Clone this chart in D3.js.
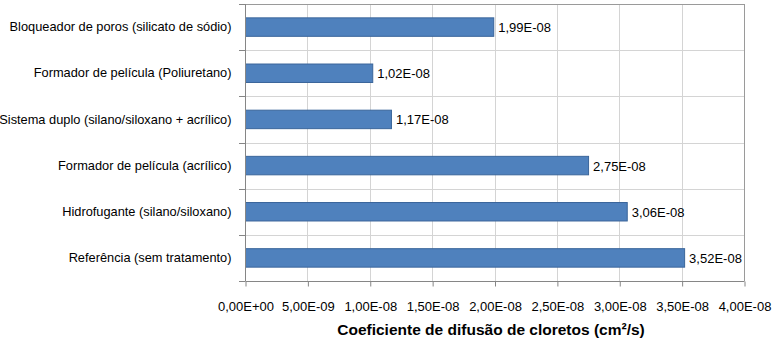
<!DOCTYPE html>
<html>
<head>
<meta charset="utf-8">
<script src="https://cdn.jsdelivr.net/npm/d3@7"></script>
<style>
  body { margin: 0; background: #fff; }
  text { font-family: "Liberation Sans", sans-serif; }
</style>
</head>
<body>
<div class="canvas"></div>
<script>
// data
const categories = [
  'Bloqueador de poros (silicato de sódio)',
  'Formador de película (Poliuretano)',
  'Sistema duplo (silano/siloxano + acrílico)',
  'Formador de película (acrílico)',
  'Hidrofugante (silano/siloxano)',
  'Referência (sem tratamento)'
]
const values = [1.99e-8, 1.02e-8, 1.17e-8, 2.75e-8, 3.06e-8, 3.52e-8]
const valueLabels = ['1,99E-08', '1,02E-08', '1,17E-08', '2,75E-08', '3,06E-08', '3,52E-08']
const xTicks = [0, 5e-9, 1e-8, 1.5e-8, 2e-8, 2.5e-8, 3e-8, 3.5e-8, 4e-8]
const xTickLabels = ['0,00E+00', '5,00E-09', '1,00E-08', '1,50E-08', '2,00E-08', '2,50E-08', '3,00E-08', '3,50E-08', '4,00E-08']
const xTitle = 'Coeficiente de difusão de cloretos (cm²/s)'

const svgWidth = 774
const svgHeight = 345
const margin = {top: 4, right: 30, bottom: 64, left: 245}
const graphWidth = svgWidth - margin.left - margin.right
const graphHeight = svgHeight - margin.top - margin.bottom

const svg = d3.select('.canvas')
  .append('svg')
  .attr('width', svgWidth)
  .attr('height', svgHeight)

const graph = svg.append('g')
  .attr('transform', `translate(${margin.left}, ${margin.top})`)

const x = d3.scaleLinear().domain([0, 4e-8]).range([0, graphWidth])
const y = d3.scaleBand().domain(categories).range([0, graphHeight]).paddingInner(0.6).paddingOuter(0.3)

// vertical gridlines
graph.append('g')
  .selectAll('line')
  .data(xTicks)
  .join('line')
  .attr('x1', d => Math.round(x(d)) + 0.5)
  .attr('x2', d => Math.round(x(d)) + 0.5)
  .attr('y1', 0)
  .attr('y2', graphHeight)
  .attr('stroke', '#d4d4d4')
  .attr('stroke-width', 1)

// category boundaries (horizontal gridlines)
const step = graphHeight / categories.length
graph.append('g')
  .selectAll('line')
  .data(d3.range(categories.length + 1))
  .join('line')
  .attr('x1', 0)
  .attr('x2', graphWidth)
  .attr('y1', d => Math.round(d * step) + 0.5)
  .attr('y2', d => Math.round(d * step) + 0.5)
  .attr('stroke', d => d === 0 ? '#9a9a9a' : '#d4d4d4')
  .attr('stroke-width', 1)

// left tick marks
graph.append('g')
  .selectAll('line')
  .data(d3.range(categories.length + 1))
  .join('line')
  .attr('x1', -6)
  .attr('x2', 0)
  .attr('y1', d => Math.round(d * step) + 0.5)
  .attr('y2', d => Math.round(d * step) + 0.5)
  .attr('stroke', '#868686')

// right border
graph.append('line')
  .attr('x1', graphWidth + 0.5).attr('x2', graphWidth + 0.5)
  .attr('y1', 0).attr('y2', graphHeight)
  .attr('stroke', '#9a9a9a')

// bars
graph.selectAll('rect.bar')
  .data(values)
  .join('rect')
  .attr('class', 'bar')
  .attr('x', 0.5)
  .attr('y', (d, i) => y(categories[i]))
  .attr('width', d => x(d))
  .attr('height', y.bandwidth())
  .attr('fill', '#4f81bd')
  .attr('stroke', '#3a659a')
  .attr('stroke-width', 1)

// value labels
graph.selectAll('text.val')
  .data(values)
  .join('text')
  .attr('class', 'val')
  .attr('x', d => x(d) + 5)
  .attr('y', (d, i) => y(categories[i]) + y.bandwidth() / 2)
  .attr('dy', '0.38em')
  .attr('font-size', 13)
  .attr('fill', '#000')
  .text((d, i) => valueLabels[i])

// axes
const xAxis = d3.axisBottom(x)
  .tickValues(xTicks)
  .tickSize(5)
  .tickFormat((d, i) => xTickLabels[i])

const xAxisGroup = graph.append('g')
  .attr('transform', `translate(0.5, ${graphHeight + 0.5})`)
  .call(xAxis)
xAxisGroup.select('.domain').attr('stroke', '#868686').attr('d', `M0,0H${graphWidth}`)
xAxisGroup.selectAll('.tick line').attr('stroke', '#868686')
xAxisGroup.selectAll('text')
  .attr('font-size', 13)
  .attr('fill', '#000')
  .attr('y', 20)
  .style('font-family', '"Liberation Sans", sans-serif')

const yAxis = d3.axisLeft(y).tickSize(0).tickPadding(14)
const yAxisGroup = graph.append('g')
  .attr('transform', 'translate(0.5, 0)')
  .call(yAxis)
yAxisGroup.select('.domain').attr('stroke', '#868686').attr('d', `M0,0V${graphHeight}`)
yAxisGroup.selectAll('text')
  .attr('font-size', 12.8)
  .attr('fill', '#000')
  .style('font-family', '"Liberation Sans", sans-serif')

// axis title
svg.append('text')
  .attr('x', 491)
  .attr('y', 335)
  .attr('text-anchor', 'middle')
  .attr('font-size', 15.5)
  .attr('font-weight', 'bold')
  .text(xTitle)
</script>
</body>
</html>
